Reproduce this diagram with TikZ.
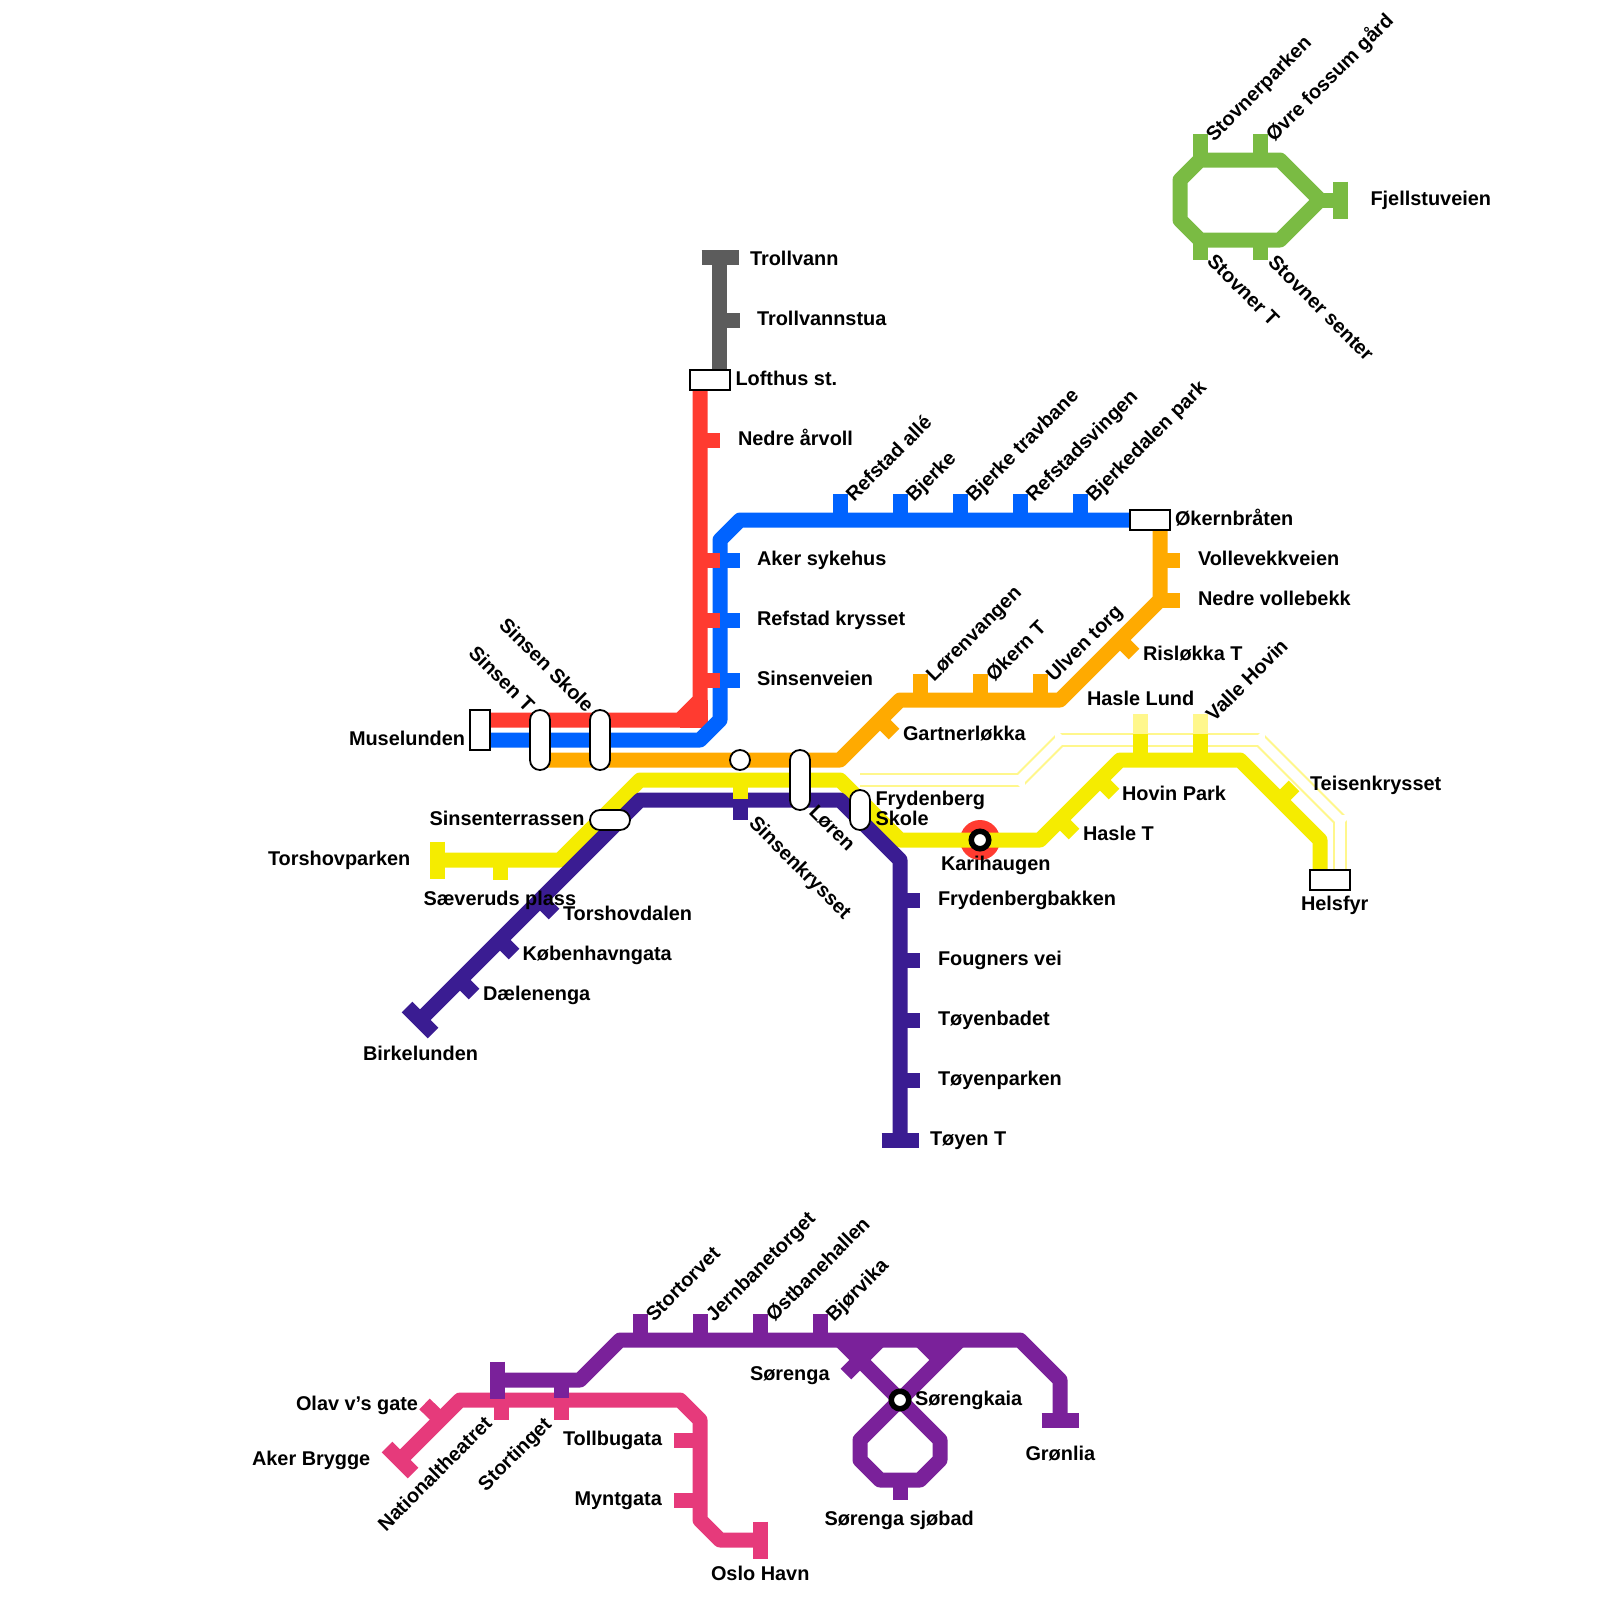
\documentclass[tikz,border=0pt]{standalone}
\usepackage{fontspec}
\setmainfont{Liberation Sans}[BoldFont={Liberation Sans Bold}]
\definecolor{cred}{HTML}{FF3B30}
\definecolor{cblue}{HTML}{0063FF}
\definecolor{corange}{HTML}{FFAA00}
\definecolor{cyellow}{HTML}{F5EC00}
\definecolor{cpale}{HTML}{FFF78C}
\definecolor{cindigo}{HTML}{3A1C92}
\definecolor{cpurple}{HTML}{7A219A}
\definecolor{cpink}{HTML}{E63A7B}
\definecolor{cgreen}{HTML}{7ABB43}
\definecolor{cgray}{HTML}{5C5C5C}
\tikzset{
  x=1pt,y=-1pt,
  rail/.style={line width=15pt,line join=round,line cap=butt},
  lbl/.style={anchor=base west,inner sep=0pt,outer sep=0pt,yshift=-1pt,font=\fontsize{19.9pt}{21pt}\selectfont\bfseries,text=black},
  boxst/.style={draw=black,line width=1.8pt,fill=white,inner sep=0pt},
  pill/.style={line width=1.8pt,draw=black,fill=white,rounded corners=9.9pt},
  ring/.style={line width=5.5pt,draw=black,fill=white},
}
\newcommand{\St}[4][0]{\node[lbl,rotate=#1] (#2) at (#3) {#4};}
\begin{document}
\begin{tikzpicture}
\useasboundingbox (0,0) rectangle (1600,1600);
% Karihaugen disc
\fill[cred] (980,840) circle (20pt);
% pale double line
\foreach \a/\b in {{860,780}/{1020,780},{1020,780}/{1060,740},{1060,740}/{1260,740},{1260,740}/{1340,820},{1340,820}/{1340,870}}{
  \draw[cpale,line width=14pt] (\a) -- (\b);}
\foreach \a/\b in {{860,780}/{1020,780},{1020,780}/{1060,740},{1060,740}/{1260,740},{1260,740}/{1340,820},{1340,820}/{1340,870}}{
  \draw[white,line width=9.8pt,line cap=rect] (\a) -- (\b);}
\fill[white] (845,770) rectangle (860,790);
\draw[rail,cpale] (1140,740) -- (1140,714);
\draw[rail,cpale] (1200,740) -- (1200,714);
% gray
\draw[rail,cgray] (719.5,257.5) -- (719.5,370);
\draw[rail,cgray] (701.5,257.5) -- (738.5,257.5);
\draw[rail,cgray] (720,320) -- (740,320);
% red
\draw[rail,cred] (480,720) -- (680,720) -- (700,700) -- (700,380);
\draw[rail,cred] (680,720) -- (707.5,720);
\draw[rail,cred] (700,700) -- (700,727.5);
% blue
\draw[rail,cblue] (480,740) -- (700,740) -- (720,720) -- (720,540) -- (740,520) -- (1140,520);
\foreach \x in {840,900,960,1020,1080}{\draw[rail,cblue] (\x,520) -- (\x,494);}
\foreach \y in {560,620,680}{
  \draw[rail,cblue] (720,\y) -- (740,\y);
  \draw[rail,cred] (700,\y) -- (720,\y);}
\draw[rail,cred] (700,440) -- (720,440);
% orange
\draw[rail,corange] (540,760) -- (840,760) -- (900,700) -- (1060,700) -- (1160,600) -- (1160,520);
\foreach \x in {920,980,1040}{\draw[rail,corange] (\x,700) -- (\x,674);}
\foreach \y in {560,600}{\draw[rail,corange] (1160,\y) -- (1180,\y);}
\draw[rail,corange] (1120,640) -- (1134,654);
\draw[rail,corange] (880,720) -- (894,734);
% yellow
\draw[rail,cyellow] (437.5,860) -- (560,860) -- (640,780) -- (840,780) -- (900,840) -- (1040,840) -- (1120,760) -- (1240,760) -- (1320,840) -- (1320,870);
\draw[rail,cyellow] (437.5,841.5) -- (437.5,878.5);
\draw[rail,cyellow] (500,860) -- (500,880);
\draw[rail,cyellow] (1140,760) -- (1140,734);
\draw[rail,cyellow] (1200,760) -- (1200,734);
\draw[rail,cyellow] (1100,780) -- (1114,794);
\draw[rail,cyellow] (1060,820) -- (1074,834);
\draw[rail,cyellow] (1280,800) -- (1294,786);
% indigo
\draw[rail,cindigo] (420,1020) -- (640,800) -- (840,800) -- (900,860) -- (900,1140);
\draw[rail,cindigo] (407,1007) -- (433,1033);
\draw[rail,cindigo] (881.5,1140) -- (918.5,1140);
\foreach \y in {900,960,1020,1080}{\draw[rail,cindigo] (900,\y) -- (920,\y);}
\draw[rail,cindigo] (540,900) -- (554,914);
\draw[rail,cindigo] (500,940) -- (514,954);
\draw[rail,cindigo] (460,980) -- (474,994);
\draw[rail,cyellow] (740,780) -- (740,799);
\draw[rail,cindigo] (740,799) -- (740,820);
% green
\draw[rail,cgreen] (1200,160) -- (1280,160) -- (1320,200) -- (1280,240) -- (1200,240) -- (1180,220) -- (1180,180) -- cycle;
\draw[rail,cgreen] (1320,200) -- (1340,200);
\draw[rail,cgreen] (1340,181.5) -- (1340,218.5);
\foreach \x in {1200,1260}{
  \draw[rail,cgreen] (\x,160) -- (\x,134);
  \draw[rail,cgreen] (\x,240) -- (\x,260);}
% pink
\draw[rail,cpink] (400,1460) -- (460,1400) -- (680,1400) -- (700,1420) -- (700,1520) -- (720,1540) -- (760,1540);
\draw[rail,cpink] (387,1447) -- (413,1473);
\draw[rail,cpink] (760,1521.5) -- (760,1558.5);
\draw[rail,cpink] (439,1418) -- (424.5,1404);
\draw[rail,cpink] (501.5,1400) -- (501.5,1420);
\draw[rail,cpink] (561,1400) -- (561,1420);
\foreach \y in {1440,1500}{\draw[rail,cpink] (700,\y) -- (674,\y);}
% purple
\draw[rail,cpurple] (497.5,1380) -- (580,1380) -- (620,1340) -- (1020,1340) -- (1060,1380) -- (1060,1420);
\draw[rail,cpurple] (497.5,1361.5) -- (497.5,1398.5);
\draw[rail,cpurple] (1041.5,1420) -- (1078.5,1420);
\draw[rail,cpurple] (561,1380) -- (561,1398);
\foreach \x in {640,700,760,820}{\draw[rail,cpurple] (\x,1340) -- (\x,1314);}
\draw[rail,cpurple] (840,1340) -- (940,1440) -- (940,1460) -- (920,1480) -- (880,1480) -- (860,1460) -- (860,1440) -- (960,1340);
\draw[rail,cpurple] (880,1340) -- (846,1374);
\draw[rail,cpurple] (920,1340) -- (940,1360);
\fill[cpurple] (840,1340) -- (880,1340) -- (860,1360) -- cycle;
\fill[cpurple] (920,1340) -- (960,1340) -- (940,1360) -- cycle;
\draw[rail,cpurple] (900,1480) -- (900,1500);
% stations
\node[boxst,minimum width=40pt,minimum height=20pt] (mLofthus) at (710,380) {};
\node[boxst,minimum width=40pt,minimum height=20pt] (mOkern) at (1150,520) {};
\node[boxst,minimum width=40pt,minimum height=20pt] (mHelsfyr) at (1330,880) {};
\node[boxst,minimum width=20pt,minimum height=40pt] (mMuse) at (480,730) {};
\draw[pill] (530,710) rectangle (550,770);
\draw[pill] (590,710) rectangle (610,770);
\draw[pill] (790,750) rectangle (810,810);
\draw[pill] (850,790) rectangle (870,830);
\draw[pill] (590,810) rectangle (630,830);
\draw[line width=1.8pt,draw=black,fill=white] (740,760) circle (10pt);
\draw[ring] (980,840) circle (8.75pt);
\draw[ring] (900,1400) circle (8.75pt);
% labels
\St{a1}{750,264.5}{Trollvann}
\St{a2}{757,324.5}{Trollvannstua}
\St{a3}{735.5,384.5}{Lofthus st.}
\St{a4}{738,444.5}{Nedre årvoll}
\St{a5}{757,564.5}{Aker sykehus}
\St{a6}{757,624.5}{Refstad krysset}
\St{a7}{757,684.5}{Sinsenveien}
\St{a8}{1175,524.5}{Økernbråten}
\St{a9}{1198,564.5}{Vollevekkveien}
\St{a10}{1198,604.5}{Nedre vollebekk}
\St{a11}{1143,659.5}{Risløkka T}
\St{a12}{903,739.5}{Gartnerløkka}
\St{a13}{1087,704.5}{Hasle Lund}
\St{a14}{1122,799.5}{Hovin Park}
\St{a15}{1083,839.5}{Hasle T}
\St{a16}{1310,789.5}{Teisenkrysset}
\St{a17}{1301,909.5}{Helsfyr}
\St{a18}{941,869.5}{Karihaugen}
\St{a19}{875.5,804.5}{Frydenberg}
\St{a20}{875.5,824.5}{Skole}
\St{a21}{938,904.5}{Frydenbergbakken}
\St{a22}{938,964.5}{Fougners vei}
\St{a23}{938,1024.5}{Tøyenbadet}
\St{a24}{938,1084.5}{Tøyenparken}
\St{a25}{930,1144.5}{Tøyen T}
\St{a26}{563,919.5}{Torshovdalen}
\St{a27}{522.5,959.5}{Københavngata}
\St{a28}{483,999.5}{Dælenenga}
\St{a29}{363,1059.5}{Birkelunden}
\St{a30}{423.5,904.5}{Sæveruds plass}
\St{a31}{268,864.5}{Torshovparken}
\St{a32}{429.6,824.5}{Sinsenterrassen}
\St{a33}{349,744.5}{Muselunden}
\St{a34}{1370.5,204.5}{Fjellstuveien}
\St{a35}{296,1409.5}{Olav v’s gate}
\St{a36}{252,1464.5}{Aker Brygge}
\St{a37}{750,1379.5}{Sørenga}
\St{a38}{915,1404.5}{Sørengkaia}
\St{a39}{1025.5,1459.5}{Grønlia}
\St{a40}{563,1444.5}{Tollbugata}
\St{a41}{574.5,1504.5}{Myntgata}
\St{a42}{711,1579.5}{Oslo Havn}
\St{a43}{824.5,1524.5}{Sørenga sjøbad}
% up-right labels
\St[45]{b1}{1214,141.5}{Stovnerparken}
\St[45]{b2}{1274,141.5}{Øvre fossum gård}
\St[45]{b3}{854,501.5}{Refstad allé}
\St[45]{b4}{914,501.5}{Bjerke}
\St[45]{b5}{974,501.5}{Bjerke travbane}
\St[45]{b6}{1034,501.5}{Refstadsvingen}
\St[45]{b7}{1094,501.5}{Bjerkedalen park}
\St[45]{b8}{934,681.5}{Lørenvangen}
\St[45]{b9}{994,681.5}{Økern T}
\St[45]{b10}{1054,681.5}{Ulven torg}
\St[45]{b11}{1214,721.5}{Valle Hovin}
\St[45]{b12}{654,1321.5}{Stortorvet}
\St[45]{b13}{714,1321.5}{Jernbanetorget}
\St[45]{b14}{774,1321.5}{Østbanehallen}
\St[45]{b15}{834,1321.5}{Bjørvika}
\St[45]{b16}{386,1531}{Nationaltheatret}
\St[45]{b17}{486,1491}{Stortinget}
% down-right labels
\St[-45]{c1}{1206,261.5}{Stovner T}
\St[-45]{c2}{1267,262.5}{Stovner senter}
\St[-45]{c3}{748,823.5}{Sinsenkrysset}
\St[-45]{c4}{808,812}{Løren}
\St[-45]{c5}{467.5,653}{Sinsen T}
\St[-45]{c6}{498,625}{Sinsen Skole}
\end{tikzpicture}
\end{document}
